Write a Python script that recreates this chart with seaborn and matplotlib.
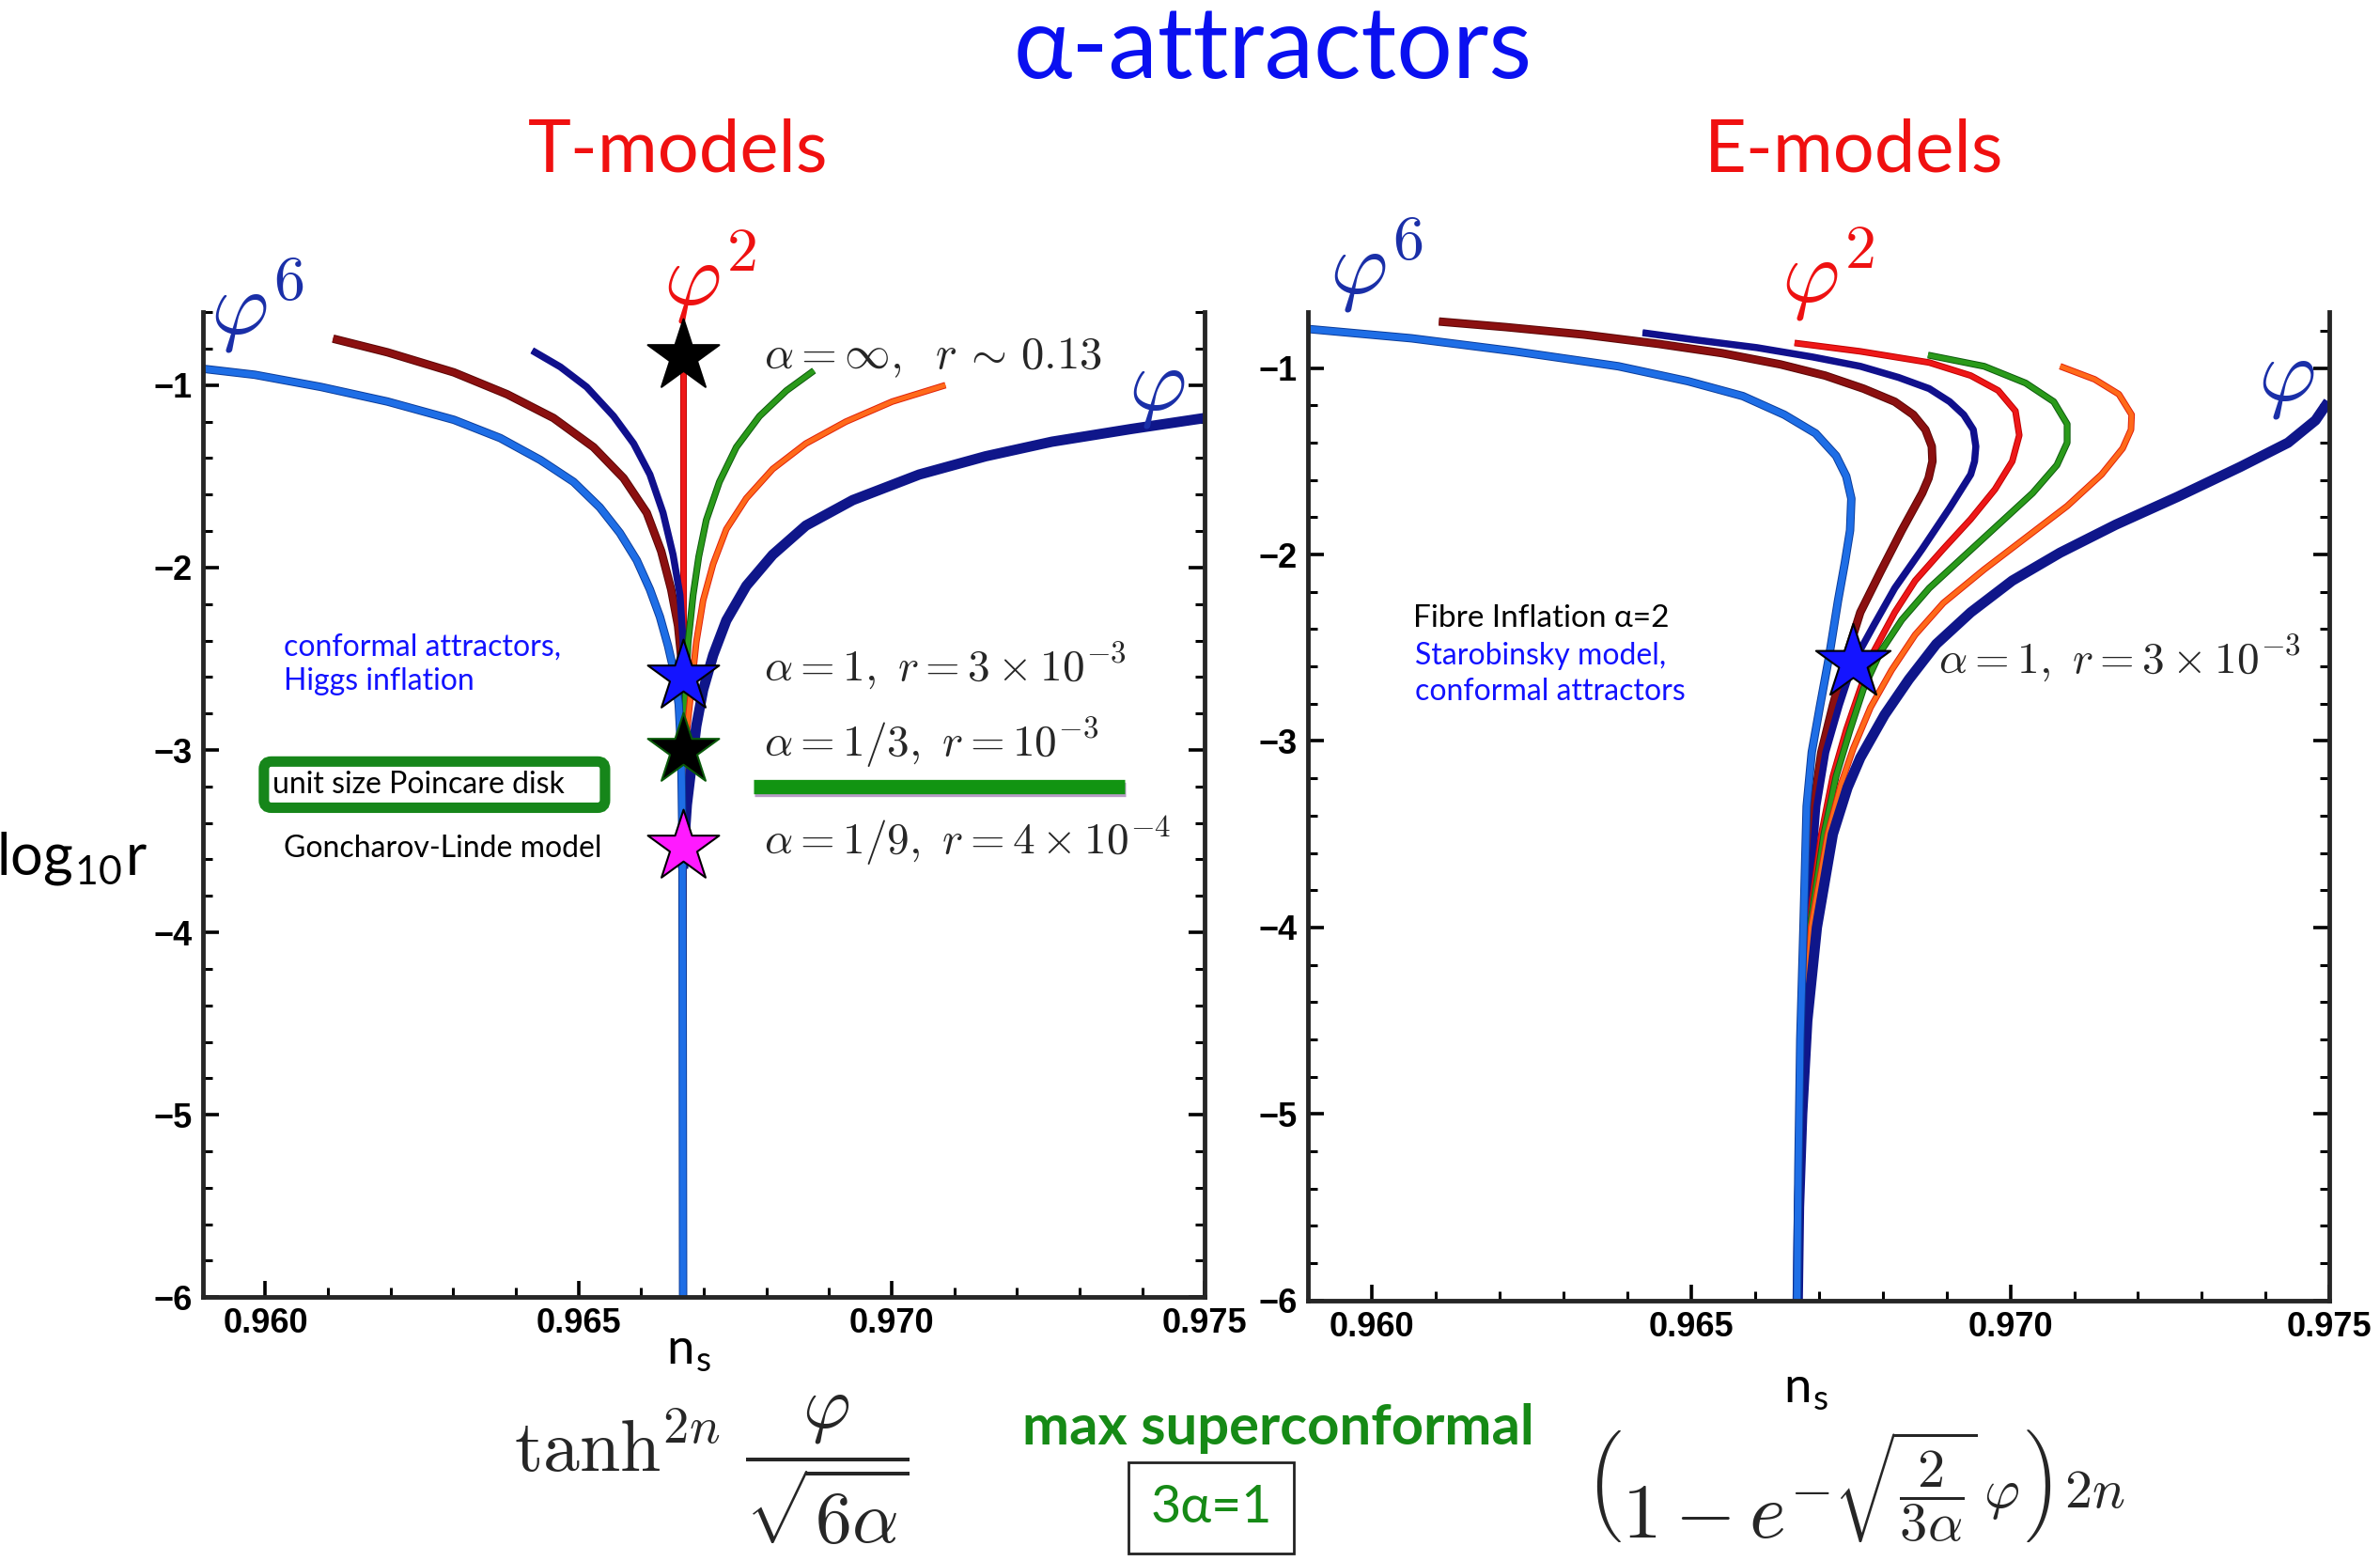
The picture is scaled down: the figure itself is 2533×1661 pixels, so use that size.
import io
import numpy as np
import pandas as pd
import matplotlib
matplotlib.use("Agg")
import matplotlib.pyplot as plt
import matplotlib.patheffects as pe
from matplotlib.ticker import MultipleLocator, FormatStrFormatter, FuncFormatter
from matplotlib.mathtext import math_to_image
import seaborn as sns

# ---------------- T-models (left panel) ----------------
t_phi6_ns = [0.9590, 0.95983, 0.96089, 0.96195, 0.96301, 0.96375, 0.96439, 0.96492, 0.96534, 0.96566,
             0.96593, 0.96614, 0.96630, 0.96643, 0.96653, 0.96660, 0.96664, 0.96666, 0.96667]
t_phi6_lr = [-0.91, -0.943, -1.01, -1.09, -1.19, -1.29, -1.41, -1.53, -1.67, -1.81,
             -1.96, -2.12, -2.27, -2.43, -2.58, -2.75, -3.01, -3.5, -6.0]
t_maroon_ns = [0.96108, 0.96195, 0.96301, 0.96386, 0.96460, 0.96524, 0.96572, 0.96609, 0.96632, 0.96648,
               0.96659, 0.96664, 0.96667, 0.96667]
t_maroon_lr = [-0.745, -0.82, -0.93, -1.05, -1.18, -1.34, -1.51, -1.70, -1.91, -2.12, -2.32, -2.49, -2.75, -3.6]
t_navy_ns = [0.96426, 0.96471, 0.96513, 0.96556, 0.96588, 0.96614, 0.96635, 0.96651, 0.96662, 0.96667, 0.96667]
t_navy_lr = [-0.81, -0.90, -1.01, -1.17, -1.32, -1.49, -1.70, -1.93, -2.15, -2.41, -3.6]
t_red_ns = [0.96667, 0.96667]
t_red_lr = [-0.84, -6.0]
t_green_ns = [0.96876, 0.96832, 0.96789, 0.96752, 0.96725, 0.96704, 0.96692, 0.96683, 0.96675, 0.96671, 0.96668, 0.96667]
t_green_lr = [-0.92, -1.03, -1.17, -1.34, -1.53, -1.74, -1.94, -2.15, -2.41, -2.67, -3.0, -3.6]
t_orange_ns = [0.97086, 0.97001, 0.96927, 0.96863, 0.96810, 0.96768, 0.96736, 0.96715, 0.96699, 0.96688,
               0.96680, 0.96672, 0.96668, 0.96667]
t_orange_lr = [-1.0, -1.09, -1.20, -1.32, -1.46, -1.62, -1.79, -1.98, -2.18, -2.41, -2.67, -2.93, -3.3, -3.6]
t_phi_ns = [0.97500, 0.97383, 0.97256, 0.97150, 0.97044, 0.96938, 0.96863, 0.96810, 0.96768, 0.96736,
            0.96715, 0.96699, 0.96688, 0.96680, 0.96673, 0.96669, 0.96667]
t_phi_lr = [-1.18, -1.24, -1.31, -1.39, -1.49, -1.63, -1.77, -1.93, -2.10, -2.29,
            -2.48, -2.67, -2.87, -3.10, -3.3, -3.5, -3.65]

t_star_ns = [0.96667, 0.96667, 0.96667, 0.96667]
t_star_lr = [-0.84, -2.60, -3.0, -3.53]
t_star_fill = ["black", "#1414ff", "black", "#ff1aff"]
t_star_edge = ["black", "black", "#0a5a0a", "black"]

superconf_bar_ns = [0.96779, 0.97372]
superconf_bar_lr = [-3.2, -3.2]

# ---------------- E-models (right panel) ----------------
e_phi6_ns = [0.9590, 0.96062, 0.96224, 0.96386, 0.96495, 0.96581, 0.96646, 0.96695, 0.96727, 0.96743, 0.96751,
             0.96749, 0.96741, 0.96730, 0.96716, 0.96702, 0.96689, 0.96681, 0.96676, 0.96671, 0.96668, 0.96666]
e_phi6_lr = [-0.79, -0.84, -0.91, -0.99, -1.07, -1.15, -1.25, -1.35, -1.47, -1.58, -1.70,
             -1.87, -2.04, -2.25, -2.55, -2.81, -3.06, -3.35, -4.0, -4.6, -5.3, -6.0]
e_maroon_ns = [0.96105, 0.96210, 0.96332, 0.96449, 0.96549, 0.96640, 0.96710, 0.96770, 0.96819, 0.96848, 0.96867,
               0.96877, 0.96878, 0.96872, 0.96862, 0.96830, 0.96797, 0.96765, 0.96743, 0.96722, 0.96704, 0.96692,
               0.96680, 0.96673, 0.96669, 0.96667]
e_maroon_lr = [-0.75, -0.78, -0.82, -0.87, -0.92, -0.98, -1.04, -1.11, -1.18, -1.25, -1.33,
               -1.42, -1.50, -1.59, -1.67, -1.87, -2.09, -2.31, -2.55, -2.81, -3.06, -3.35,
               -4.0, -4.6, -5.3, -6.0]
e_navy_ns = [0.96424, 0.96510, 0.96603, 0.96690, 0.96765, 0.96825, 0.96873, 0.96905, 0.96927, 0.96942, 0.96946,
             0.96944, 0.96938, 0.96905, 0.96862, 0.96819, 0.96786, 0.96754, 0.96732, 0.96711, 0.96697, 0.96682,
             0.96674, 0.96669, 0.96667]
e_navy_lr = [-0.81, -0.85, -0.89, -0.94, -0.99, -1.05, -1.11, -1.18, -1.25, -1.33, -1.42,
             -1.50, -1.57, -1.75, -1.97, -2.18, -2.38, -2.58, -2.81, -3.06, -3.35, -4.0,
             -4.6, -5.3, -6.0]
e_red_ns = [0.96662, 0.96765, 0.96873, 0.96938, 0.96981, 0.97008, 0.97014, 0.97003, 0.96976, 0.96938, 0.96895,
            0.96851, 0.96819, 0.96786, 0.96765, 0.96743, 0.96722, 0.96704, 0.96684, 0.96674, 0.96669, 0.96667]
e_red_lr = [-0.865, -0.91, -0.97, -1.04, -1.12, -1.23, -1.36, -1.50, -1.65, -1.81, -1.97,
            -2.14, -2.31, -2.52, -2.72, -2.94, -3.19, -3.5, -4.0, -4.6, -5.3, -6.0]
e_green_ns = [0.96871, 0.96959, 0.97024, 0.97068, 0.97089, 0.97089, 0.97073, 0.97035, 0.96981, 0.96927, 0.96873,
              0.96830, 0.96797, 0.96770, 0.96749, 0.96727, 0.96708, 0.96686, 0.96675, 0.96669, 0.96667]
e_green_lr = [-0.93, -0.99, -1.08, -1.18, -1.30, -1.40, -1.52, -1.67, -1.84, -2.01, -2.18,
              -2.35, -2.52, -2.72, -2.94, -3.19, -3.5, -4.0, -4.6, -5.3, -6.0]
e_orange_ns = [0.97078, 0.97132, 0.97170, 0.97190, 0.97189, 0.97176, 0.97143, 0.97089, 0.97024, 0.96959, 0.96895,
               0.96851, 0.96814, 0.96781, 0.96754, 0.96735, 0.96714, 0.96688, 0.96676, 0.96670, 0.96667]
e_orange_lr = [-0.99, -1.06, -1.14, -1.25, -1.33, -1.43, -1.57, -1.74, -1.91, -2.08, -2.26,
               -2.43, -2.62, -2.82, -3.04, -3.23, -3.5, -4.0, -4.6, -5.3, -6.0]
e_phi_ns = [0.97498, 0.97478, 0.97435, 0.97360, 0.97262, 0.97165, 0.97078, 0.97003, 0.96938, 0.96884, 0.96841,
            0.96803, 0.96765, 0.96745, 0.96722, 0.96697, 0.96682, 0.96674, 0.96669, 0.96667]
e_phi_lr = [-1.18, -1.28, -1.40, -1.53, -1.69, -1.84, -1.99, -2.14, -2.31, -2.48, -2.67,
            -2.86, -3.09, -3.25, -3.5, -4.0, -4.5, -5.0, -5.5, -6.0]

e_star_ns = [0.96754]
e_star_lr = [-2.58]

# colour, line width, edge colour (for the shaded Mathematica look)
LIGHTBLUE = ("#1e6ee6", 5.0, "#0b3c9a")
MAROON = ("#8b1010", 5.0, "#5a0505")
NAVY = ("#10108c", 4.0, "#10108c")
RED = ("#ee1818", 3.6, "#c00000")
GREEN = ("#2a9a1a", 3.8, "#0d5a0d")
ORANGE = ("#ff6a1a", 3.6, "#e0200a")
NAVY_THICK = ("#0f168a", 6.5, "#0f168a")


def safe_math(candidates):
    # pick the first mathtext string that this matplotlib can parse
    for s in candidates:
        try:
            math_to_image(s, io.BytesIO(), dpi=72, format="png")
            return s
        except Exception:
            continue
    return candidates[-1]


sns.set_theme(style="ticks")
plt.rcParams["font.family"] = ["Lato", "DejaVu Sans"]
plt.rcParams["mathtext.fontset"] = "cm"
plt.rcParams["axes.linewidth"] = 3.5

fig = plt.figure(figsize=(25.33, 16.61), dpi=100)
ax1 = fig.add_axes([0.0852, 0.169, 0.421, 0.631])
ax2 = fig.add_axes([0.5496, 0.167, 0.4292, 0.633])


def curve(ax, ns, lr, style):
    col, lw, edge = style
    df = pd.DataFrame({"ns": ns, "logr": lr})
    sns.lineplot(data=df, x="ns", y="logr", sort=False, estimator=None, color=col,
                 linewidth=lw, ax=ax, solid_capstyle="butt", solid_joinstyle="round",
                 path_effects=[pe.Stroke(linewidth=lw + 1.4, foreground=edge), pe.Normal()])


curve(ax1, t_red_ns, t_red_lr, RED)
curve(ax1, t_maroon_ns, t_maroon_lr, MAROON)
curve(ax1, t_navy_ns, t_navy_lr, NAVY)
curve(ax1, t_green_ns, t_green_lr, GREEN)
curve(ax1, t_orange_ns, t_orange_lr, ORANGE)
curve(ax1, t_phi_ns, t_phi_lr, NAVY_THICK)
curve(ax1, t_phi6_ns, t_phi6_lr, LIGHTBLUE)

curve(ax2, e_maroon_ns, e_maroon_lr, MAROON)
curve(ax2, e_navy_ns, e_navy_lr, NAVY)
curve(ax2, e_red_ns, e_red_lr, RED)
curve(ax2, e_green_ns, e_green_lr, GREEN)
curve(ax2, e_orange_ns, e_orange_lr, ORANGE)
curve(ax2, e_phi_ns, e_phi_lr, NAVY_THICK)
curve(ax2, e_phi6_ns, e_phi6_lr, LIGHTBLUE)

# green "max superconformal" bar
sns.lineplot(x=superconf_bar_ns, y=superconf_bar_lr, color="#129412", linewidth=11,
             ax=ax1, solid_capstyle="butt",
             path_effects=[pe.SimpleLineShadow(offset=(1, -2), shadow_color="#8a5aa0", alpha=0.6), pe.Normal()])

# stars
for x, y, fc, ec in zip(t_star_ns, t_star_lr, t_star_fill, t_star_edge):
    sns.scatterplot(x=[x], y=[y], marker="*", s=3300, color=fc, edgecolor=ec,
                    linewidth=1.5, ax=ax1, zorder=5)
sns.scatterplot(x=e_star_ns, y=e_star_lr, marker="*", s=3600, color="#1414ff",
                edgecolor="black", linewidth=1.5, ax=ax2, zorder=5)

# axes styling
for ax, top in ((ax1, -0.6), (ax2, -0.7)):
    ax.set_xlim(0.959, 0.975)
    ax.set_ylim(-6.0, top)
    ax.spines["top"].set_visible(False)
    ax.xaxis.set_major_locator(MultipleLocator(0.005))
    ax.xaxis.set_minor_locator(MultipleLocator(0.001))
    ax.yaxis.set_major_locator(MultipleLocator(1))
    ax.yaxis.set_minor_locator(MultipleLocator(0.2))
    ax.xaxis.set_major_formatter(FormatStrFormatter("%.3f"))
    ax.yaxis.set_major_formatter(FuncFormatter(lambda v, p: "\u2212%d" % abs(round(v))))
    ax.tick_params(which="both", direction="in", top=False, right=True, left=True, bottom=True,
                   labelright=False, colors="black")
    ax.tick_params(which="major", length=12, width=2.6, pad=8)
    ax.tick_params(which="minor", length=7, width=2.2)
    ax.set_xlabel("")
    ax.set_ylabel("")
    for lab in ax.get_xticklabels() + ax.get_yticklabels():
        lab.set_fontfamily(["Liberation Sans", "DejaVu Sans"])
        lab.set_fontweight("bold")
        lab.set_fontsize(26)
    ax.set_facecolor("white")

# curve labels
lab_kw = dict(fontsize=68, ha="center", va="center", clip_on=False)
ax1.text(0.95988, -0.57, r"$\varphi^6$", color="#1a2fa8", **lab_kw)
ax1.text(0.96710, -0.41, r"$\varphi^2$", color="#ee1111", **lab_kw)
ax1.text(0.97423, -1.03, r"$\varphi$", color="#1a2fa8", **lab_kw)
ax2.text(0.96007, -0.45, r"$\varphi^6$", color="#1a2fa8", **lab_kw)
ax2.text(0.96714, -0.50, r"$\varphi^2$", color="#ee1111", **lab_kw)
ax2.text(0.97432, -1.07, r"$\varphi$", color="#1a2fa8", **lab_kw)

# annotations, left
ax1.text(0.96796, -0.85, r"$\alpha=\infty,\;\ r\,\sim\, 0.13$", fontsize=35, ha="left", va="center")
ax1.text(0.96796, -2.54, r"$\alpha=1,\ r=3\times 10^{-3}$", fontsize=34, ha="left", va="center")
ax1.text(0.96796, -2.96, r"$\alpha=1/3,\ r=10^{-3}$", fontsize=34, ha="left", va="center")
ax1.text(0.96796, -3.50, r"$\alpha=1/9,\ r=4\times 10^{-4}$", fontsize=34, ha="left", va="center")
ax1.text(0.96029, -2.53, "conformal attractors,\nHiggs inflation", color="#1212ff", fontsize=23,
         ha="left", va="center", linespacing=1.3)
ax1.text(0.96012, -3.19, "unit size Poincare disk    ", color="black", fontsize=23, ha="left", va="center",
         bbox=dict(boxstyle="round,pad=0.3,rounding_size=0.25", facecolor="white",
                   edgecolor="#16861a", linewidth=8))
ax1.text(0.96029, -3.54, "Goncharov-Linde model", color="black", fontsize=23, ha="left", va="center")

# annotations, right
ax2.text(0.96888, -2.56, r"$\alpha=1,\ r=3\times 10^{-3}$", fontsize=34, ha="left", va="center")
ax2.text(0.96064, -2.34, "Fibre Inflation \u03b1=2", color="black", fontsize=24, ha="left", va="center")
ax2.text(0.96068, -2.64, "Starobinsky model,\nconformal attractors", color="#1212ff", fontsize=23,
         ha="left", va="center", linespacing=1.3)

# figure texts
fig.text(0.535, 0.968, "\u03b1-attractors", color="#0a10f0", fontsize=76, ha="center", va="center")
fig.text(0.285, 0.903, "T-models", color="#f01010", fontsize=56, ha="center", va="center")
fig.text(0.779, 0.903, "E-models", color="#f01010", fontsize=56, ha="center", va="center")
fig.text(0.030, 0.450, r"log$_{\mathregular{10}}$r", color="black", fontsize=44, ha="center", va="center")
fig.text(0.2896, 0.134, r"n$_{\mathregular{s}}$", color="black", fontsize=38, ha="center", va="center")
fig.text(0.759, 0.109, r"n$_{\mathregular{s}}$", color="black", fontsize=38, ha="center", va="center")
fig.text(0.299, 0.058, r"$\tanh^{2n}\,\dfrac{\varphi}{\sqrt{6\alpha}}$", fontsize=56, ha="center", va="center")
fig.text(0.537, 0.085, "max superconformal", color="#168a16", fontsize=43, fontweight="bold",
         ha="center", va="center")
fig.text(0.509, 0.034, "3\u03b1=1", color="#168a16", fontsize=40, ha="center", va="center",
         bbox=dict(boxstyle="square,pad=0.42", facecolor="none", edgecolor="#222222", linewidth=2))
e_formula = safe_math([
    r"$\left(1-e^{-\sqrt{\dfrac{2}{3\alpha}}\,\varphi}\right)^{2n}$",
    r"$\left(1-e^{-\sqrt{\frac{2}{3\alpha}}\varphi}\right)^{2n}$",
])
fig.text(0.7795, 0.043, e_formula, fontsize=60, ha="center", va="center")

fig.savefig("out.png", dpi=100, facecolor="white")
